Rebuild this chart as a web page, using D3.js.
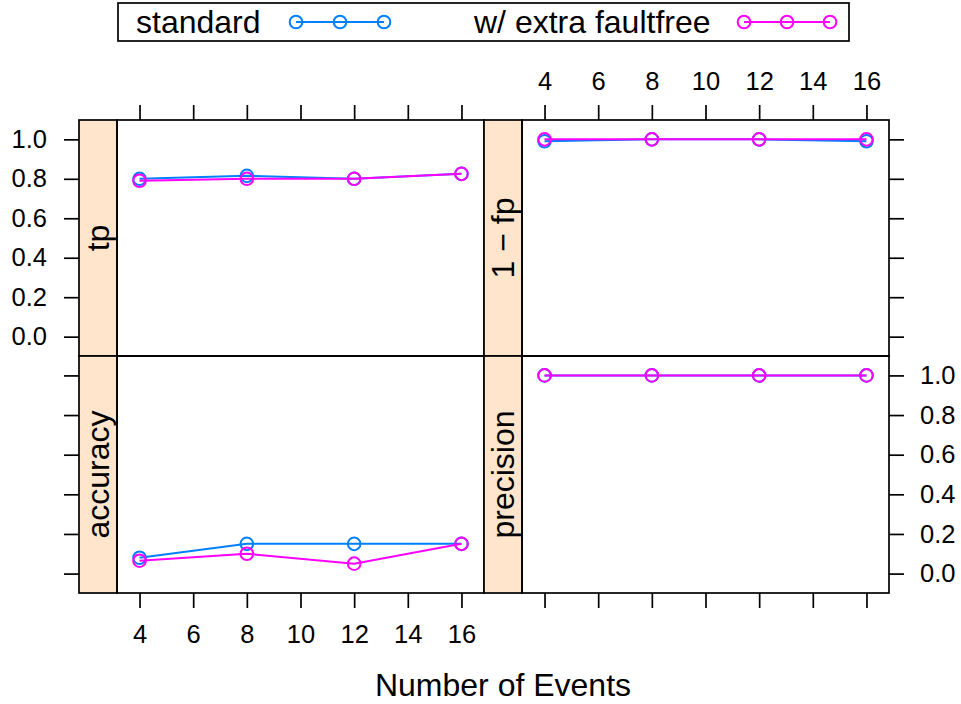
<!DOCTYPE html>
<html>
<head>
<meta charset="utf-8">
<script src="https://cdn.jsdelivr.net/npm/d3@7"></script>
<style>
  body { margin: 0; background: #fff; }
  text { font-family: "Liberation Sans", Arial, Helvetica, sans-serif; fill: #000; }
</style>
</head>
<body>
<svg width="961" height="704"></svg>
<script>
// data
const events = [4, 8, 12, 16]
const measures = ["tp", "1 − fp", "accuracy", "precision"]
const seriesNames = ["standard", "w/ extra faultfree"]
const seriesColors = ["#0080ff", "#ff00ff"]
const standard = [
  [0.80, 0.815, 0.80, 0.825],   // tp
  [0.99, 1.0, 1.0, 0.99],       // 1 - fp
  [0.08, 0.15, 0.15, 0.15],     // accuracy
  [1.0, 1.0, 1.0, 1.0],         // precision
]
const faultfree = [
  [0.79, 0.80, 0.80, 0.825],
  [1.0, 1.0, 1.0, 1.0],
  [0.065, 0.10, 0.05, 0.15],
  [1.0, 1.0, 1.0, 1.0],
]
const xTicks = [4, 6, 8, 10, 12, 14, 16]
const yTicks = [0, 0.2, 0.4, 0.6, 0.8, 1.0]

const svg = d3.select("svg")
const tickFont = 25.5
const bigFont = 32
const lw = 1.7

// panel grid: strip left edge, panel left edge, panel right edge
const cols = [[79, 117, 484], [484, 522, 889]]
const rows = [[120, 356], [356, 593]]

const xs = cols.map(c => d3.scaleLinear().domain([3.16, 16.84]).range([c[1], c[2]]))
const ys = rows.map(r => d3.scaleLinear().domain([-0.098, 1.098]).range([r[1], r[0]]))

const panels = measures.map((m, i) => ({
  name: m, col: i % 2, row: Math.floor(i / 2),
  series: [standard[i], faultfree[i]]
}))

const fmtY = d3.format(".1f")

function styleAxis(g, labels) {
  g.select(".domain").remove()
  g.selectAll(".tick line").attr("stroke", "#000").attr("stroke-width", lw)
  g.selectAll(".tick text").attr("font-size", tickFont).attr("font-family", null)
  if (!labels) g.selectAll(".tick text").remove()
}

// axes (alternating labels like lattice)
rows.forEach((r, ri) => {
  const left = svg.append("g").attr("transform", `translate(${cols[0][0]},0)`)
    .call(d3.axisLeft(ys[ri]).tickValues(yTicks).tickSize(15).tickPadding(17).tickFormat(fmtY))
  styleAxis(left, ri === 0)
  const right = svg.append("g").attr("transform", `translate(${cols[1][2]},0)`)
    .call(d3.axisRight(ys[ri]).tickValues(yTicks).tickSize(15).tickPadding(16).tickFormat(fmtY))
  styleAxis(right, ri === 1)
})
cols.forEach((c, ci) => {
  const top = svg.append("g").attr("transform", `translate(0,${rows[0][0]})`)
    .call(d3.axisTop(xs[ci]).tickValues(xTicks).tickSize(15).tickPadding(15))
  styleAxis(top, ci === 1)
  const bottom = svg.append("g").attr("transform", `translate(0,${rows[1][1]})`)
    .call(d3.axisBottom(xs[ci]).tickValues(xTicks).tickSize(15).tickPadding(17))
  styleAxis(bottom, ci === 0)
})

// panels
panels.forEach(p => {
  const c = cols[p.col], r = rows[p.row]
  const x = xs[p.col], y = ys[p.row]
  const g = svg.append("g")

  g.append("rect")
    .attr("x", c[0]).attr("y", r[0])
    .attr("width", c[1] - c[0]).attr("height", r[1] - r[0])
    .attr("fill", "#ffe5cc").attr("stroke", "#000").attr("stroke-width", lw)

  g.append("text")
    .attr("transform", `translate(${c[1] - 8},${(r[0] + r[1]) / 2}) rotate(-90)`)
    .attr("text-anchor", "middle")
    .attr("font-size", bigFont)
    .text(p.name)

  const line = d3.line().x((d, i) => x(events[i])).y(d => y(d))
  p.series.forEach((vals, si) => {
    g.append("path")
      .attr("d", line(vals))
      .attr("fill", "none")
      .attr("stroke", seriesColors[si])
      .attr("stroke-width", 2)
    g.selectAll(null).data(vals).enter().append("circle")
      .attr("cx", (d, i) => x(events[i]))
      .attr("cy", d => y(d))
      .attr("r", 6.3)
      .attr("fill", "none")
      .attr("stroke", seriesColors[si])
      .attr("stroke-width", 2)
  })

  g.append("rect")
    .attr("x", c[1]).attr("y", r[0])
    .attr("width", c[2] - c[1]).attr("height", r[1] - r[0])
    .attr("fill", "none").attr("stroke", "#000").attr("stroke-width", lw)
})

// x label
svg.append("text")
  .attr("x", (cols[0][1] + cols[1][2]) / 2)
  .attr("y", 696)
  .attr("text-anchor", "middle")
  .attr("font-size", bigFont)
  .text("Number of Events")

// legend
const legend = svg.append("g")
legend.append("rect")
  .attr("x", 118).attr("y", 3).attr("width", 731).attr("height", 38)
  .attr("fill", "#fff").attr("stroke", "#000").attr("stroke-width", lw)
const legendText = [136, 474]
const legendSym = [[296, 384], [744, 830]]
seriesNames.forEach((name, i) => {
  legend.append("text")
    .attr("x", legendText[i]).attr("y", 33)
    .attr("font-size", bigFont)
    .text(name)
  const [a, b] = legendSym[i]
  legend.append("line")
    .attr("x1", a).attr("x2", b).attr("y1", 22).attr("y2", 22)
    .attr("stroke", seriesColors[i]).attr("stroke-width", 2)
  legend.selectAll(null).data([a, (a + b) / 2, b]).enter().append("circle")
    .attr("cx", d => d).attr("cy", 22).attr("r", 6.3)
    .attr("fill", "none").attr("stroke", seriesColors[i]).attr("stroke-width", 2)
})
</script>
</body>
</html>
